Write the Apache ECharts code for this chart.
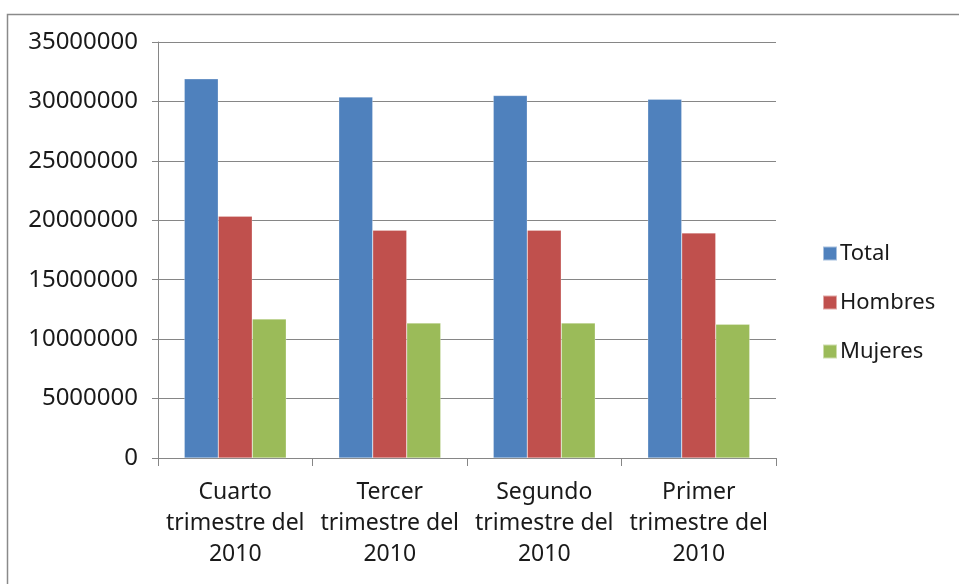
<!DOCTYPE html>
<html>
<head>
<meta charset="utf-8">
<script src="https://cdn.jsdelivr.net/npm/echarts@6/dist/echarts.min.js"></script>
<style>html,body{margin:0;padding:0;background:#fff;}#c{width:959px;height:584px;}</style>
</head>
<body>
<div id="c"></div>
<script>
const categories = ["Cuarto\ntrimestre del\n2010", "Tercer\ntrimestre del\n2010", "Segundo\ntrimestre del\n2010", "Primer\ntrimestre del\n2010"];
const seriesNames = ["Total", "Hombres", "Mujeres"];
const totalValues = [31900000, 30380000, 30500000, 30190000];
const hombresValues = [20350000, 19170000, 19170000, 18940000];
const mujeresValues = [11700000, 11360000, 11360000, 11250000];
const yTicks = [0, 35000000, 5000000]; // min, max, interval

const colors = ["#4F81BD", "#C0504D", "#9BBB59"];
const font = "'Noto Sans', sans-serif";
const chart = echarts.init(document.getElementById('c'), null, {renderer: 'canvas'});
const values = [totalValues, hombresValues, mujeresValues];
chart.setOption({
  animation: false,
  color: colors,
  graphic: [{
    type: 'rect', left: 5, top: 12, silent: true,
    shape: {width: 1000, height: 1000},
    style: {fill: 'none', stroke: '#8a8a8a', lineWidth: 1.5}
  }],
  grid: {left: 158, right: 183, top: 42, bottom: 126, containLabel: false},
  legend: {
    orient: 'vertical', left: 817, top: 237,
    itemWidth: 14, itemHeight: 14, itemGap: 26,
    icon: 'rect',
    textStyle: {fontFamily: font, fontSize: 22, color: '#1a1a1a', lineHeight: 23, padding: [0,0,0,-2]},
    data: seriesNames
  },
  xAxis: {
    type: 'category', data: categories,
    axisLine: {lineStyle: {color: '#868686', width: 1}},
    axisTick: {show: true, length: 8, lineStyle: {color: '#868686'}},
    axisLabel: {fontFamily: font, fontSize: 23, color: '#1a1a1a', lineHeight: 31, margin: 19, interval: 0}
  },
  yAxis: {
    type: 'value', min: yTicks[0], max: yTicks[1], interval: yTicks[2],
    axisLine: {show: true, lineStyle: {color: '#868686', width: 1}},
    axisTick: {show: true, length: 6, lineStyle: {color: '#868686'}},
    splitLine: {lineStyle: {color: '#868686', width: 1}},
    axisLabel: {fontFamily: font, fontSize: 24, color: '#1a1a1a', margin: 20, formatter: v => String(v)}
  },
  series: seriesNames.map((n, i) => ({
    name: n, type: 'bar', data: values[i],
    barGap: '0%', barCategoryGap: '34%',
    itemStyle: {color: colors[i], borderColor: 'rgba(255,255,255,0.5)', borderWidth: 0.5}
  }))
});
</script>
</body>
</html>
